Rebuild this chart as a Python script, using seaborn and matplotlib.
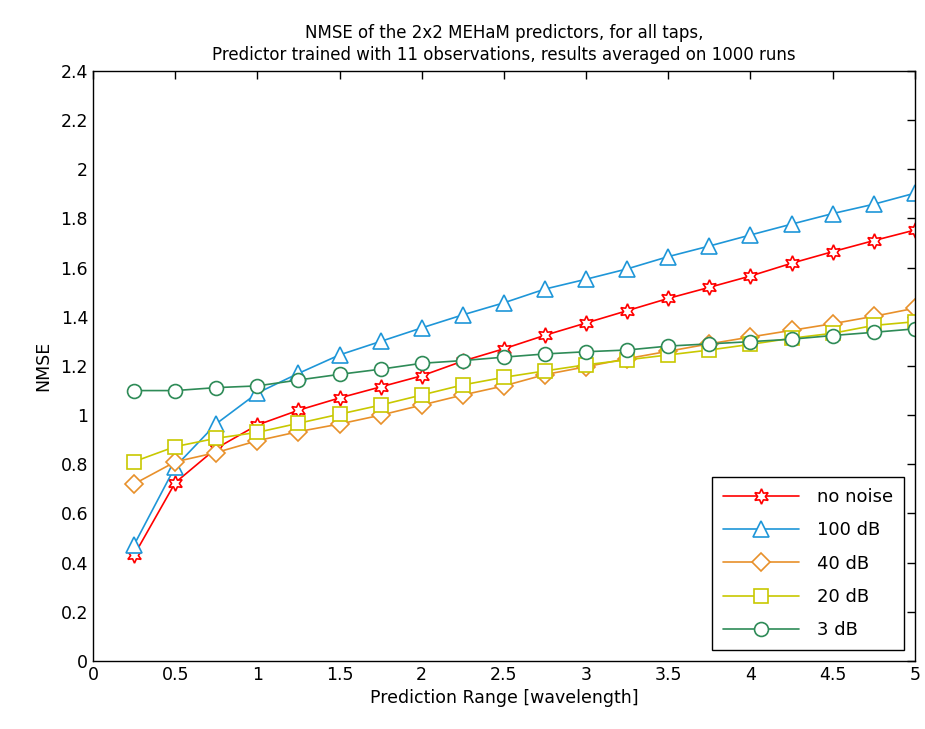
import matplotlib
matplotlib.use("Agg")
import matplotlib.pyplot as plt
import seaborn as sns
import numpy as np

x_range = [0.25, 0.5, 0.75, 1.0, 1.25, 1.5, 1.75, 2.0, 2.25, 2.5,
           2.75, 3.0, 3.25, 3.5, 3.75, 4.0, 4.25, 4.5, 4.75, 5.0]

no_noise = [0.43, 0.725, 0.865, 0.96, 1.02, 1.07, 1.115, 1.16, 1.22, 1.27,
            1.325, 1.375, 1.425, 1.475, 1.52, 1.566, 1.618, 1.665, 1.71, 1.753]
db100 = [0.472, 0.79, 0.965, 1.09, 1.17, 1.245, 1.3, 1.355, 1.408, 1.457,
         1.513, 1.553, 1.595, 1.645, 1.688, 1.733, 1.777, 1.82, 1.858, 1.903]
db40 = [0.72, 0.81, 0.848, 0.896, 0.933, 0.964, 1.0, 1.041, 1.082, 1.119,
        1.165, 1.197, 1.23, 1.26, 1.29, 1.318, 1.345, 1.372, 1.402, 1.435]
db20 = [0.811, 0.872, 0.906, 0.93, 0.967, 1.004, 1.041, 1.082, 1.123, 1.154,
        1.18, 1.205, 1.225, 1.245, 1.265, 1.288, 1.313, 1.333, 1.365, 1.38]
db3 = [1.1, 1.1, 1.112, 1.119, 1.143, 1.166, 1.187, 1.211, 1.222, 1.236,
       1.249, 1.258, 1.265, 1.281, 1.29, 1.299, 1.309, 1.324, 1.337, 1.351]

labels = ["no noise", "100 dB", "40 dB", "20 dB", "3 dB"]
series = [no_noise, db100, db40, db20, db3]
colors = ["#ff0000", "#1e96d8", "#e8902a", "#c8c800", "#2e8b57"]
markers = [(6, 1, 0), "^", "D", "s", "o"]
msizes = [11, 11, 9, 10, 10]

x_ticks = [0, 0.5, 1, 1.5, 2, 2.5, 3, 3.5, 4, 4.5, 5]
y_ticks = [0, 0.2, 0.4, 0.6, 0.8, 1, 1.2, 1.4, 1.6, 1.8, 2, 2.2, 2.4]

sns.set_style("white")
plt.rcParams["font.family"] = ["DejaVu Sans"]
plt.rcParams["text.color"] = "black"
plt.rcParams["axes.labelcolor"] = "black"

fig = plt.figure(figsize=(9.25, 7.29), dpi=100)
ax = fig.add_axes([0.1005, 0.0933, 0.8885, 0.8093])

for lab, vals, c, m, ms in zip(labels, series, colors, markers, msizes):
    sns.lineplot(x=x_range, y=vals, ax=ax, color=c, marker=m, markersize=ms,
                 markerfacecolor="white", markeredgecolor=c, markeredgewidth=1.2,
                 linewidth=1.2, label=lab)

ax.set_xlim(0, 5)
ax.set_ylim(0, 2.4)
ax.set_xticks(x_ticks)
ax.set_xticklabels(["0", "0.5", "1", "1.5", "2", "2.5", "3", "3.5", "4", "4.5", "5"])
ax.set_yticks(y_ticks)
ax.set_yticklabels(["0", "0.2", "0.4", "0.6", "0.8", "1", "1.2", "1.4", "1.6",
                    "1.8", "2", "2.2", "2.4"])
ax.tick_params(direction="in", length=6, width=1, top=True, right=True,
               labelsize=12.5, colors="black")
for s in ax.spines.values():
    s.set_visible(True)
    s.set_color("black")
    s.set_linewidth(1.0)

ax.set_xlabel("Prediction Range [wavelength]", fontsize=12.5, labelpad=4)
ax.set_ylabel("NMSE", fontsize=12.5, labelpad=6)
ax.set_title("NMSE of the 2x2 MEHaM predictors, for all taps,\n"
             "Predictor trained with 11 observations, results averaged on 1000 runs",
             fontsize=12, pad=8, linespacing=1.3, color="black")

leg = ax.legend(loc="lower right", fontsize=13, frameon=True, fancybox=False,
                edgecolor="black", framealpha=1, handlelength=4.2,
                borderpad=0.6, labelspacing=0.85, borderaxespad=0.6,
                handletextpad=1.0)
leg.get_frame().set_linewidth(1.0)

fig.savefig("out.png", dpi=100)
